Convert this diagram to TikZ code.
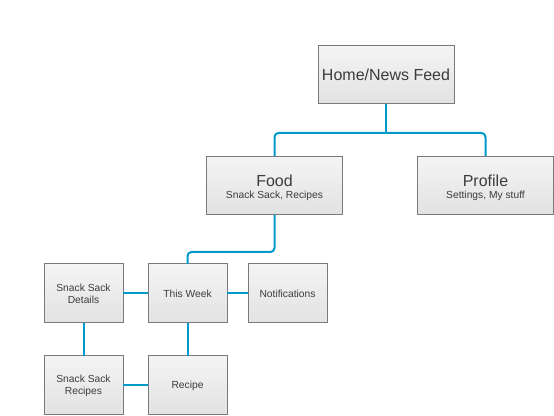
\documentclass[tikz,border=0pt]{standalone}
\usepackage{fontspec}
\setmainfont{Liberation Sans}
\definecolor{conncol}{RGB}{0,153,204}
\definecolor{boxborder}{RGB}{122,122,122}
\definecolor{boxtop}{RGB}{244,244,244}
\definecolor{boxbot}{RGB}{226,226,226}
\definecolor{txt}{RGB}{60,60,60}
\begin{document}
\begin{tikzpicture}[x=0.75pt,y=-0.75pt,
  box/.style={draw=boxborder,line width=0.75pt,top color=boxtop,bottom color=boxbot,
    inner sep=0pt,outer sep=0pt,text=txt,align=center},
  bigbox/.style={box,minimum width=101.5pt,minimum height=44pt},
  smallbox/.style={box,minimum width=59.25pt,minimum height=44.25pt,font=\fontsize{7.7pt}{8.8pt}\selectfont},
  titletext/.style={anchor=base,inner sep=0pt,text=txt,font=\fontsize{12pt}{14pt}\selectfont},
  subtext/.style={anchor=base,inner sep=0pt,text=txt,font=\fontsize{7.7pt}{10pt}\selectfont},
  conn/.style={draw=conncol,line width=1.5pt,rounded corners=3pt}]
\useasboundingbox (0,0) rectangle (554,416);
% coordinates for connector bends
\coordinate (bus) at (386,133);
\coordinate (fk) at (274.5,252);
\path (386,75) coordinate (homec) (274.5,185.5) coordinate (foodc) (485.5,185.5) coordinate (profc)
      (83.5,293.5) coordinate (ssdc) (187.5,293.5) coordinate (twc) (287.5,293.5) coordinate (notc)
      (83.5,385.5) coordinate (ssrc) (187.5,385.5) coordinate (recc);
\node[bigbox,minimum width=102pt,minimum height=43.5pt,font=\fontsize{12pt}{14pt}\selectfont] (home) at (homec) {Home/News Feed};
\node[bigbox] (food) at (foodc) {};
\node[titletext] (foodt) at ([yshift=-0.4pt]food.center) {Food};
\node[subtext] (foods) at ([yshift=-10.1pt]food.center) {Snack Sack, Recipes};
\node[bigbox] (profile) at (profc) {};
\node[titletext] (proft) at ([yshift=-0.4pt]profile.center) {Profile};
\node[subtext] (profs) at ([yshift=-10.1pt]profile.center) {Settings, My stuff};
\node[smallbox] (ssd) at (ssdc) {Snack Sack\\Details};
\node[smallbox] (tw) at (twc) {This Week};
\node[smallbox] (notif) at (notc) {Notifications};
\node[smallbox] (ssr) at (ssrc) {Snack Sack\\Recipes};
\node[smallbox] (recipe) at (recc) {Recipe};
\draw[conn] (home.south) -- (bus);
\draw[conn] (food.north) |- (bus) -| (profile.north);
\draw[conn] (food.south) -- (food.south |- fk) -| (tw.north);
\draw[conn] (ssd.east) -- (tw.west);
\draw[conn] (tw.east) -- (notif.west);
\draw[conn] (ssd.south) -- (ssr.north);
\draw[conn] (tw.south) -- (recipe.north);
\draw[conn] (ssr.east) -- (recipe.west);
\end{tikzpicture}
\end{document}
